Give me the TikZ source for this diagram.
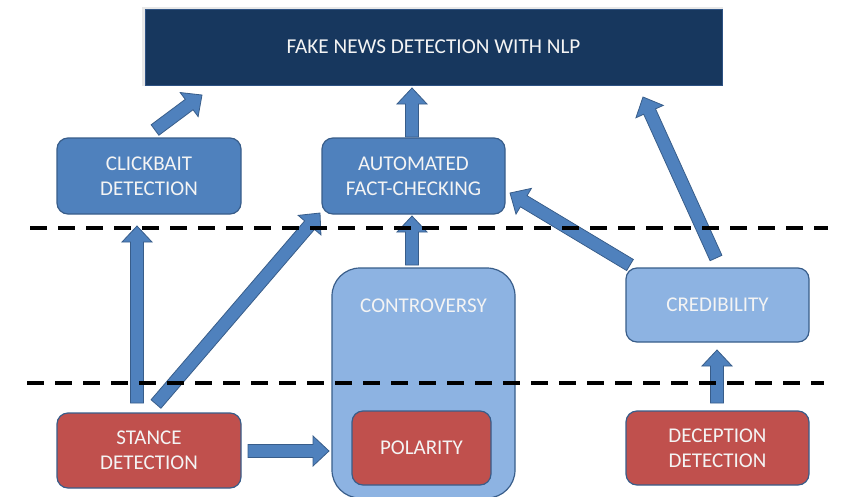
\documentclass[tikz,border=0pt]{standalone}
\usepackage{fontspec}
\setmainfont{Carlito}
\usetikzlibrary{calc}
\definecolor{navy}{HTML}{17375E}
\definecolor{navyline}{HTML}{2E5283}
\definecolor{midblue}{HTML}{4F81BD}
\definecolor{lineblue}{HTML}{385D8A}
\definecolor{lightblue}{HTML}{8DB3E2}
\definecolor{redfill}{HTML}{C0504D}
\definecolor{txtwhite}{HTML}{F4F4F4}
\newcommand{\blockarrow}[2]{%
  \coordinate (bh) at ($(#2)!16pt!(#1)$);
  \filldraw[blockarr]
    ($(#1)!6.5pt!90:(#2)$) -- ($(bh)!6.5pt!90:(#2)$) -- ($(bh)!15pt!90:(#2)$) --
    (#2) -- ($(bh)!15pt!-90:(#2)$) -- ($(bh)!6.5pt!-90:(#2)$) --
    ($(#1)!6.5pt!-90:(#2)$) -- cycle;
}
\begin{document}
\begin{tikzpicture}[x=1pt,y=-1pt,
  boxtext/.style={text=txtwhite, align=center, font=\fontsize{21}{25}\selectfont},
  midbox/.style={boxtext, rectangle, rounded corners=11pt, fill=midblue, draw=lineblue, line width=1.2pt, minimum width=184pt, minimum height=76pt},
  lightbox/.style={boxtext, rectangle, rounded corners=11pt, fill=lightblue, draw=lineblue, line width=1.2pt, minimum width=183pt, minimum height=74pt},
  redbox/.style={boxtext, rectangle, rounded corners=11pt, fill=redfill, draw=lineblue, line width=1.2pt, minimum width=183pt, minimum height=75pt},
  blockarr/.style={fill=midblue, draw=lineblue, line width=0.8pt, line join=miter},
  sepline/.style={black, line width=3.5pt, dash pattern=on 16.5pt off 11.5pt},
]
\useasboundingbox (0,0) rectangle (841,496);
% top box with slight shadow
\fill[black!9] (142,7) rectangle (723,86);
\node[rectangle, fill=navy, draw=navyline, line width=1pt, minimum width=577pt, minimum height=76pt,
      text=txtwhite, font=\fontsize{21.2}{25}\selectfont] (top) at (433.5,47) {FAKE NEWS DETECTION WITH NLP};

\node[midbox] (click) at (149,176) {CLICKBAIT\\DETECTION};
\node[midbox, minimum width=183pt] (fact) at (413.5,176) {AUTOMATED\\FACT-CHECKING};

\node[lightbox, rounded corners=28pt, minimum height=230pt] (contro) at (423.5,383) {};
\node[boxtext] (controtxt) at (423.5,306) {CONTROVERSY};
\node[lightbox] (cred) at (717.5,305) {CREDIBILITY};

\node[redbox, minimum width=184pt] (stance) at (149,450.5) {STANCE\\DETECTION};
\node[redbox, minimum width=139pt, minimum height=74pt] (polar) at (421.5,448) {POLARITY};
\node[redbox, minimum height=74pt] (decep) at (717.5,448) {DECEPTION\\DETECTION};

% arrow end points
\coordinate (a1s) at (155,130);  \coordinate (a1e) at (202,95);
\coordinate (a2s) at (412,137);  \coordinate (a2e) at (412,88);
\coordinate (a3s) at (716,258);  \coordinate (a3e) at (643,97);
\coordinate (a4s) at (630,265);  \coordinate (a4e) at (510,193);
\coordinate (a5s) at (412,265);  \coordinate (a5e) at (412,216);
\coordinate (a6s) at (137,403);  \coordinate (a6e) at (137,226);
\coordinate (a7s) at (156,404);  \coordinate (a7e) at (320,213);
\coordinate (a8s) at (248,451);  \coordinate (a8e) at (329,451);
\coordinate (a9s) at (717,403);  \coordinate (a9e) at (717,350);

\blockarrow{a1s}{a1e}
\blockarrow{a2s}{a2e}
\blockarrow{a3s}{a3e}
\blockarrow{a4s}{a4e}
\blockarrow{a5s}{a5e}
\blockarrow{a6s}{a6e}
\blockarrow{a7s}{a7e}
\blockarrow{a8s}{a8e}
\blockarrow{a9s}{a9e}

% separators
\coordinate (d1s) at (30,228);  \coordinate (d1e) at (828,228);
\coordinate (d2s) at (27,383);  \coordinate (d2e) at (824,383);
\draw[sepline] (d1s) -- (d1e);
\draw[sepline] (d2s) -- (d2e);
\end{tikzpicture}
\end{document}
